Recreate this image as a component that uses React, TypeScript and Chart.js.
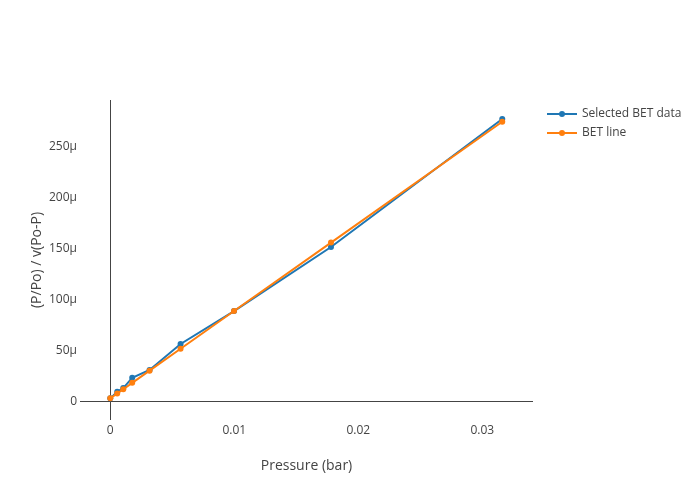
import React, { useEffect, useRef } from "react";
import { Chart, registerables } from "chart.js";

Chart.register(...registerables);

// Data
const pressure = [0, 0.00056, 0.00105, 0.00177, 0.00317, 0.00567, 0.00998, 0.0178, 0.03161];
const selectedBET = [2.9e-6, 9.4e-6, 13.0e-6, 23.1e-6, 30.7e-6, 56.2e-6, 88.5e-6, 151.3e-6, 276.8e-6];
const betLine = [2.9e-6, 7.7e-6, 11.9e-6, 18.1e-6, 30.1e-6, 51.6e-6, 88.5e-6, 155.6e-6, 274.1e-6];

const xTickValues = [0, 0.01, 0.02, 0.03];
const xTickLabels = ["0", "0.01", "0.02", "0.03"];
const yTickValues = [0, 50e-6, 100e-6, 150e-6, 200e-6, 250e-6];
const yTickLabels = ["0", "50μ", "100μ", "150μ", "200μ", "250μ"];

const seriesNames = ["Selected BET data", "BET line"];
const seriesColors = ["#1f77b4", "#ff7f0e"];

const xTitle = "Pressure (bar)";
const yTitle = "(P/Po) / v(Po-P)";

const FONT = "'Open Sans', 'Noto Sans', sans-serif";
const TEXT = "#444";

const legendPlugin = {
  id: "customLegend",
  afterDraw(chart: any) {
    const ctx = chart.ctx;
    ctx.save();
    const rows = [114, 133];
    seriesNames.forEach((name, i) => {
      const y = rows[i];
      ctx.strokeStyle = seriesColors[i];
      ctx.lineWidth = 2;
      ctx.beginPath();
      ctx.moveTo(547, y);
      ctx.lineTo(577, y);
      ctx.stroke();
      ctx.fillStyle = seriesColors[i];
      ctx.beginPath();
      ctx.arc(562, y, 3, 0, Math.PI * 2);
      ctx.fill();
      ctx.fillStyle = TEXT;
      ctx.font = `12px ${FONT}`;
      ctx.textBaseline = "middle";
      ctx.textAlign = "left";
      ctx.fillText(name, 582, y);
    });
    ctx.restore();
  },
};

export default function App() {
  const ref = useRef<HTMLCanvasElement | null>(null);

  useEffect(() => {
    document.body.style.margin = "0";
    if (!ref.current) return;
    const mk = (ys: number[]) => pressure.map((x, i) => ({ x, y: ys[i] }));
    const chart = new Chart(ref.current, {
      type: "line",
      data: {
        datasets: [
          {
            label: seriesNames[0],
            data: mk(selectedBET),
            borderColor: seriesColors[0],
            backgroundColor: seriesColors[0],
            pointBackgroundColor: seriesColors[0],
            borderWidth: 2,
            pointRadius: 3,
            pointBorderWidth: 0,
            tension: 0,
            order: 2,
          },
          {
            label: seriesNames[1],
            data: mk(betLine),
            borderColor: seriesColors[1],
            backgroundColor: seriesColors[1],
            pointBackgroundColor: seriesColors[1],
            borderWidth: 2,
            pointRadius: 3,
            pointBorderWidth: 0,
            tension: 0,
            order: 1,
          },
        ],
      },
      options: {
        animation: false,
        responsive: false,
        maintainAspectRatio: false,
        layout: { padding: { top: 100, right: 167, left: 0, bottom: 0 } },
        plugins: {
          legend: { display: false },
          tooltip: { enabled: false },
        },
        scales: {
          x: {
            type: "linear",
            min: -0.00244,
            max: 0.03409,
            afterFit: (s: any) => {
              s.height = 80;
            },
            afterBuildTicks: (s: any) => {
              s.ticks = xTickValues.map((v) => ({ value: v }));
            },
            border: { display: false },
            grid: {
              drawTicks: false,
              lineWidth: 1,
              color: (c: any) => (c.tick && c.tick.value === 0 ? TEXT : "rgba(0,0,0,0)"),
            },
            ticks: {
              padding: 3,
              color: TEXT,
              font: { family: FONT, size: 12 },
              maxRotation: 0,
              autoSkip: false,
              callback: (v: any) => {
                const i = xTickValues.indexOf(Number(v));
                return i >= 0 ? xTickLabels[i] : "";
              },
            },
            title: {
              display: true,
              text: xTitle,
              color: TEXT,
              font: { family: FONT, size: 14 },
              padding: { top: 0, bottom: 26 },
            },
          },
          y: {
            type: "linear",
            min: -18.3e-6,
            max: 295.4e-6,
            afterFit: (s: any) => {
              s.width = 80;
            },
            afterBuildTicks: (s: any) => {
              s.ticks = yTickValues.map((v) => ({ value: v }));
            },
            border: { display: false },
            grid: {
              drawTicks: false,
              lineWidth: 1,
              color: (c: any) => (c.tick && c.tick.value === 0 ? TEXT : "rgba(0,0,0,0)"),
            },
            ticks: {
              padding: 3,
              color: TEXT,
              font: { family: FONT, size: 12 },
              autoSkip: false,
              callback: (v: any) => {
                const i = yTickValues.indexOf(Number(v));
                return i >= 0 ? yTickLabels[i] : "";
              },
            },
            title: {
              display: true,
              text: yTitle,
              color: TEXT,
              font: { family: FONT, size: 14 },
              padding: { top: 29, bottom: 0 },
            },
          },
        },
      },
      plugins: [legendPlugin],
    });
    return () => chart.destroy();
  }, []);

  return (
    <div style={{ position: "absolute", left: 0, top: 0, width: 700, height: 500, background: "#fff" }}>
      <canvas ref={ref} width={700} height={500} style={{ width: 700, height: 500, display: "block" }} />
    </div>
  );
}
